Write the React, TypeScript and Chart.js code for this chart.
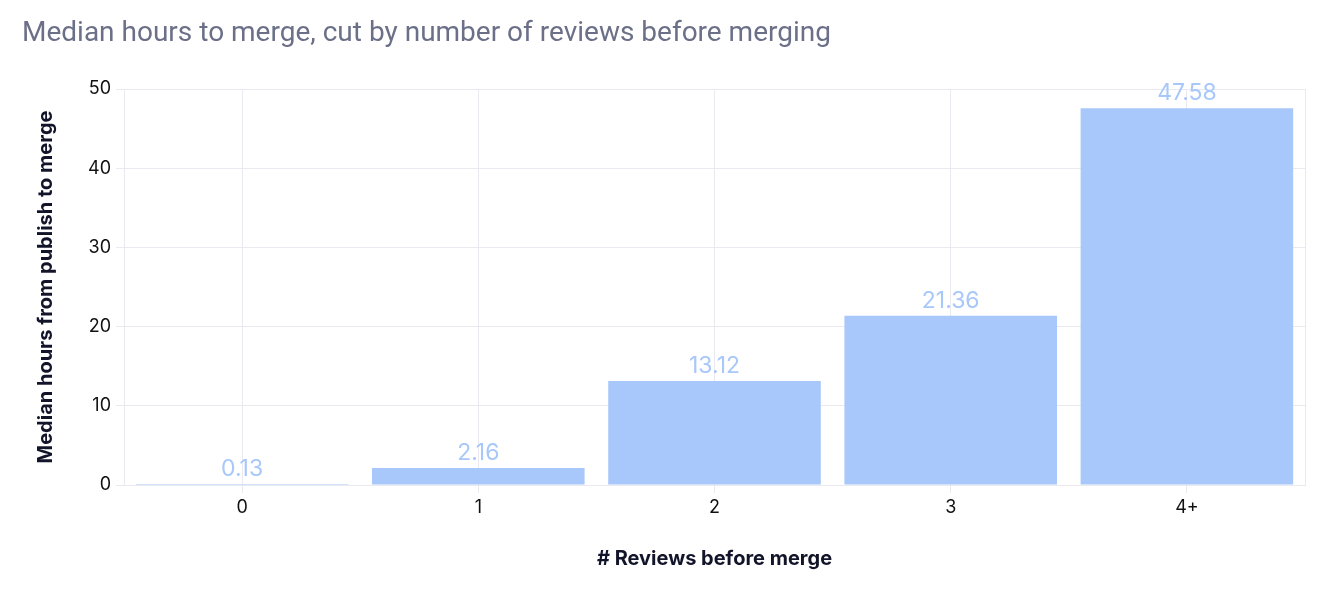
import React, { useEffect, useRef } from "react";
import { Chart, registerables } from "chart.js";

Chart.register(...registerables);

const categories = ["0", "1", "2", "3", "4+"];
const medianHours = [0.13, 2.16, 13.12, 21.36, 47.58];
const yTicksMax = 50;
const yTickStep = 10;

const TITLE = "Median hours to merge, cut by number of reviews before merging";
const X_TITLE = "# Reviews before merge";
const Y_TITLE = "Median hours from publish to merge";

const BAR_COLOR = "#a8c7fa";
const GRID_COLOR = "#e9e9ef";

const valueLabelPlugin = {
  id: "valueLabels",
  afterDatasetsDraw(chart: any) {
    const ctx = chart.ctx;
    const meta = chart.getDatasetMeta(0);
    const data = chart.data.datasets[0].data as number[];
    ctx.save();
    ctx.font = "400 23px Inter, 'Noto Sans', sans-serif";
    ctx.fillStyle = BAR_COLOR;
    ctx.textAlign = "center";
    ctx.textBaseline = "alphabetic";
    meta.data.forEach((el: any, i: number) => {
      ctx.fillText(data[i].toFixed(2), el.x, el.y - 8);
    });
    ctx.restore();
  },
};

const rightEdgePlugin = {
  id: "rightEdge",
  beforeDatasetsDraw(chart: any) {
    const { ctx, chartArea } = chart;
    ctx.save();
    ctx.strokeStyle = GRID_COLOR;
    ctx.lineWidth = 1;
    ctx.beginPath();
    const x = Math.round(chartArea.right) + 0.5;
    ctx.moveTo(x, chartArea.top);
    ctx.lineTo(x, chartArea.bottom);
    ctx.stroke();
    ctx.restore();
  },
};

export default function App() {
  const canvasRef = useRef<HTMLCanvasElement | null>(null);

  useEffect(() => {
    if (!canvasRef.current) return;
    const chart = new Chart(canvasRef.current, {
      type: "bar",
      data: {
        labels: categories,
        datasets: [
          {
            data: medianHours,
            backgroundColor: BAR_COLOR,
            borderWidth: 0,
            barPercentage: 0.9,
            categoryPercentage: 1.0,
          },
        ],
      },
      options: {
        responsive: false,
        animation: false,
        layout: { padding: { left: 22, right: 21, top: 0, bottom: 0 } },
        plugins: {
          legend: { display: false },
          tooltip: { enabled: false },
          title: {
            display: true,
            text: TITLE,
            align: "start",
            color: "#6b7088",
            font: { family: "Roboto, 'Noto Sans', sans-serif", size: 28, weight: "400" },
            padding: { top: 17, bottom: 38.4 },
          },
        },
        scales: {
          x: {
            offset: true,
            grid: { offset: false, color: GRID_COLOR, tickLength: 8 },
            border: { color: GRID_COLOR },
            ticks: {
              color: "#111111",
              font: { family: "Inter, 'Noto Sans', sans-serif", size: 18 },
              padding: 4,
            },
            title: {
              display: true,
              text: X_TITLE,
              color: "#12142a",
              font: { family: "Inter, 'Noto Sans', sans-serif", size: 20, weight: "bold" },
              padding: { top: 0, bottom: 25 },
            },
            afterFit: (s: any) => {
              s.height = 111;
            },
          },
          y: {
            min: 0,
            max: yTicksMax,
            grid: { color: GRID_COLOR, tickLength: 8 },
            border: { color: GRID_COLOR },
            ticks: {
              stepSize: yTickStep,
              color: "#111111",
              font: { family: "Inter, 'Noto Sans', sans-serif", size: 18 },
              padding: 5,
            },
            title: {
              display: true,
              text: Y_TITLE,
              color: "#12142a",
              font: { family: "Inter, 'Noto Sans', sans-serif", size: 20, weight: "bold" },
              padding: { top: 12, bottom: 0 },
            },
            afterFit: (s: any) => {
              s.width = 102;
            },
          },
        },
      },
      plugins: [valueLabelPlugin, rightEdgePlugin],
    });
    return () => chart.destroy();
  }, []);

  return (
    <div style={{ position: "absolute", left: 0, top: 0, width: 1326, height: 596, background: "#fff" }}>
      <canvas ref={canvasRef} width={1326} height={596} />
    </div>
  );
}
